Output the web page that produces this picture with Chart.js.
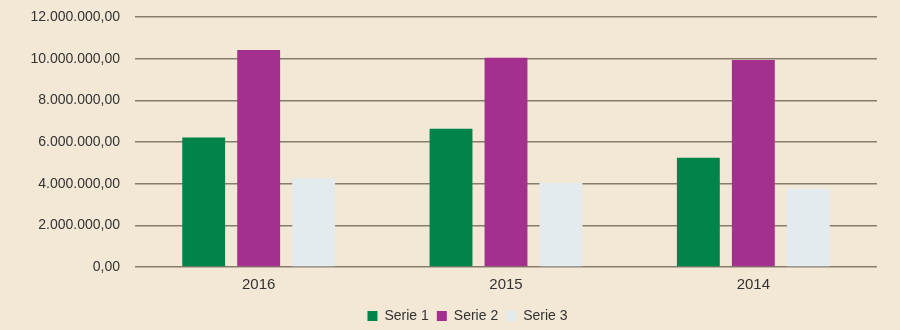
<!DOCTYPE html>
<html>
<head>
<meta charset="utf-8">
<script src="https://cdn.jsdelivr.net/npm/chart.js@4"></script>
<style>
  html, body { margin: 0; padding: 0; background: #f3e8d6; }
  #wrap { width: 900px; height: 330px; }
</style>
</head>
<body>
<div id="wrap"><canvas id="grafico"></canvas></div>
<script>
// dados do gráfico
const anos = ['2016', '2015', '2014'];
const serie1 = [6220000, 6640000, 5250000];
const serie2 = [10420000, 10040000, 9940000];
const serie3 = [4260000, 4030000, 3770000];
const nomesSeries = ['Serie 1', 'Serie 2', 'Serie 3'];

const fonte = "'Liberation Sans', Arial, sans-serif";

// formato 12.000.000,00
function formatarNumero(v) {
  const inteiro = Math.round(v).toString().replace(/\B(?=(\d{3})+(?!\d))/g, '.');
  return inteiro + ',00';
}

// desloca a legenda um pouco para a direita
const moverLegenda = {
  id: 'moverLegenda',
  afterLayout(chart) {
    if (chart.legend) {
      chart.legend.left += 29;
      chart.legend.right += 29;
    }
  }
};

const ctx = document.getElementById('grafico').getContext('2d');
new Chart(ctx, {
  type: 'bar',
  data: {
    labels: anos,
    datasets: [
      { label: nomesSeries[0], data: serie1, backgroundColor: '#00844a' },
      { label: nomesSeries[1], data: serie2, backgroundColor: '#a3308c' },
      { label: nomesSeries[2], data: serie3, backgroundColor: '#e4ebef' }
    ]
  },
  plugins: [moverLegenda],
  options: {
    responsive: true,
    maintainAspectRatio: false,
    animation: false,
    layout: { padding: { top: 17, right: 23, left: 0, bottom: -3 } },
    datasets: {
      bar: { categoryPercentage: 0.667, barPercentage: 0.78 }
    },
    plugins: {
      tooltip: { enabled: false },
      legend: {
        position: 'bottom',
        labels: {
          boxWidth: 10,
          boxHeight: 10,
          padding: 8,
          color: '#333333',
          font: { family: fonte, size: 14 }
        }
      }
    },
    scales: {
      x: {
        afterFit: (scale) => { scale.height = 34; },
        grid: { display: false },
        border: { display: false },
        ticks: { color: '#333333', padding: 1, font: { family: fonte, size: 15 } }
      },
      y: {
        min: 0,
        max: 12000000,
        afterFit: (scale) => {
          scale.width = 135;
          scale.paddingTop = 0;
        },
        grid: { color: '#857c6e', lineWidth: 1.5, drawTicks: false },
        border: { display: false },
        ticks: {
          stepSize: 2000000,
          padding: 15,
          color: '#333333',
          font: { family: fonte, size: 14 },
          callback: (v) => formatarNumero(v)
        }
      }
    }
  }
});
</script>
</body>
</html>
